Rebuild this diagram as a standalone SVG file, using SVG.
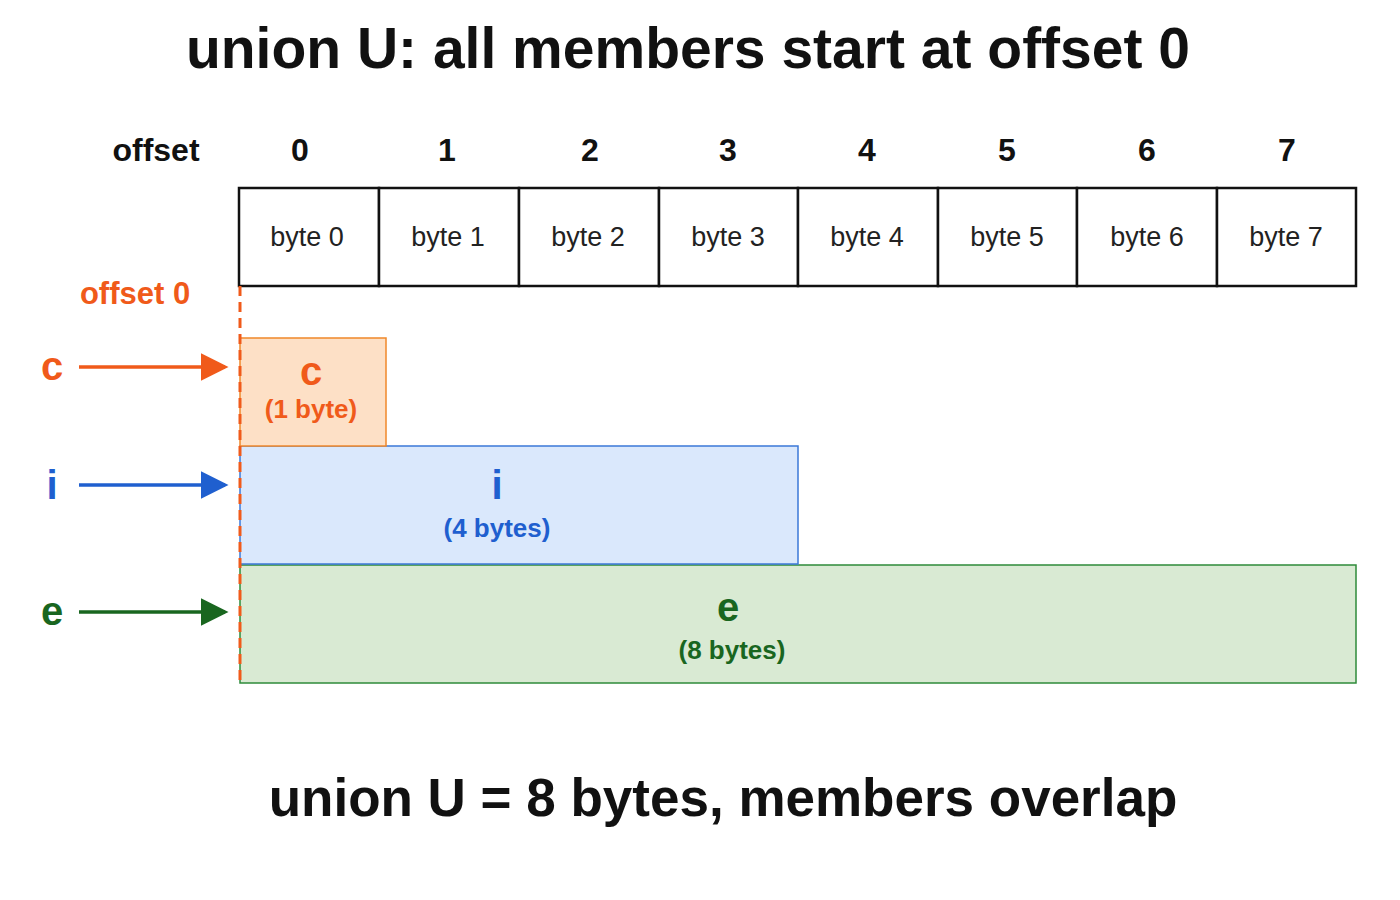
<svg xmlns="http://www.w3.org/2000/svg" width="1400" height="900" viewBox="0 0 1400 900">
<style>
text{font-family:"Liberation Sans",Arial,sans-serif;text-anchor:middle}
.t{font-weight:bold;fill:#111}
.off{font-size:32px;font-weight:bold;fill:#111}
.cell{fill:#fff;stroke:#111;stroke-width:2.5}
.cl{font-size:27px;fill:#222}
.nm{font-size:40px;font-weight:bold}
.sz{font-size:26px;font-weight:bold}
</style>
<defs>
<marker id="ao" markerWidth="8" markerHeight="8" refX="7" refY="4" orient="auto" markerUnits="strokeWidth"><path d="M0,0 L8,4 L0,8 z" fill="#f05a1a"/></marker>
<marker id="ab" markerWidth="8" markerHeight="8" refX="7" refY="4" orient="auto" markerUnits="strokeWidth"><path d="M0,0 L8,4 L0,8 z" fill="#1f5fcf"/></marker>
<marker id="ag" markerWidth="8" markerHeight="8" refX="7" refY="4" orient="auto" markerUnits="strokeWidth"><path d="M0,0 L8,4 L0,8 z" fill="#19661f"/></marker>
</defs>
<rect width="1400" height="900" fill="#fff"/>
<text class="t" x="688" y="68" font-size="57">union U: all members start at offset 0</text>
<text class="off" x="156" y="161">offset</text>
<g id="offsets" class="off">
<text x="300" y="161">0</text><text x="447" y="161">1</text><text x="590" y="161">2</text><text x="728" y="161">3</text><text x="867" y="161">4</text><text x="1007" y="161">5</text><text x="1147" y="161">6</text><text x="1287" y="161">7</text>
</g>
<g id="bytes">
<rect class="cell" x="239" y="188" width="140" height="98"/><text class="cl" x="307" y="246">byte 0</text>
<rect class="cell" x="379" y="188" width="140" height="98"/><text class="cl" x="448" y="246">byte 1</text>
<rect class="cell" x="519" y="188" width="140" height="98"/><text class="cl" x="588" y="246">byte 2</text>
<rect class="cell" x="659" y="188" width="139" height="98"/><text class="cl" x="728" y="246">byte 3</text>
<rect class="cell" x="798" y="188" width="140" height="98"/><text class="cl" x="867" y="246">byte 4</text>
<rect class="cell" x="938" y="188" width="139" height="98"/><text class="cl" x="1007" y="246">byte 5</text>
<rect class="cell" x="1077" y="188" width="140" height="98"/><text class="cl" x="1147" y="246">byte 6</text>
<rect class="cell" x="1217" y="188" width="139" height="98"/><text class="cl" x="1286" y="246">byte 7</text>
</g>
<g id="member-e"><rect x="240" y="565" width="1116" height="118" fill="#d9ead3" stroke="#2e8b3a" stroke-width="1.5"/>
<text class="nm" x="728" y="621" fill="#19661f">e</text><text class="sz" x="732" y="659" fill="#19661f">(8 bytes)</text></g>
<g id="member-i"><rect x="240" y="446" width="558" height="118" fill="#dae8fc" stroke="#3b78d8" stroke-width="1.5"/>
<text class="nm" x="497" y="499" fill="#1f5fcf">i</text><text class="sz" x="497" y="537" fill="#1f5fcf">(4 bytes)</text></g>
<g id="member-c"><rect x="240" y="338" width="146" height="108" fill="#fde0c6" stroke="#f0882a" stroke-width="1.5"/>
<text class="nm" x="311" y="385" fill="#f05a1a">c</text><text class="sz" x="311" y="418" fill="#f05a1a">(1 byte)</text></g>
<text x="135" y="304" font-size="31" font-weight="bold" fill="#f05a1a">offset 0</text>
<g id="connectors">
<line x1="240" y1="286" x2="240" y2="683" stroke="#f05a1a" stroke-width="3" stroke-dasharray="10,6"/>
<line x1="79" y1="367" x2="225" y2="367" stroke="#f05a1a" stroke-width="3.5" marker-end="url(#ao)"/>
<line x1="79" y1="485" x2="225" y2="485" stroke="#1f5fcf" stroke-width="3.5" marker-end="url(#ab)"/>
<line x1="79" y1="612" x2="225" y2="612" stroke="#19661f" stroke-width="3.5" marker-end="url(#ag)"/>
</g>
<text class="nm" x="52" y="380" fill="#f05a1a">c</text>
<text class="nm" x="52" y="499" fill="#1f5fcf">i</text>
<text class="nm" x="52" y="625" fill="#19661f">e</text>
<text class="t" x="723" y="816" font-size="53">union U = 8 bytes, members overlap</text>
</svg>
